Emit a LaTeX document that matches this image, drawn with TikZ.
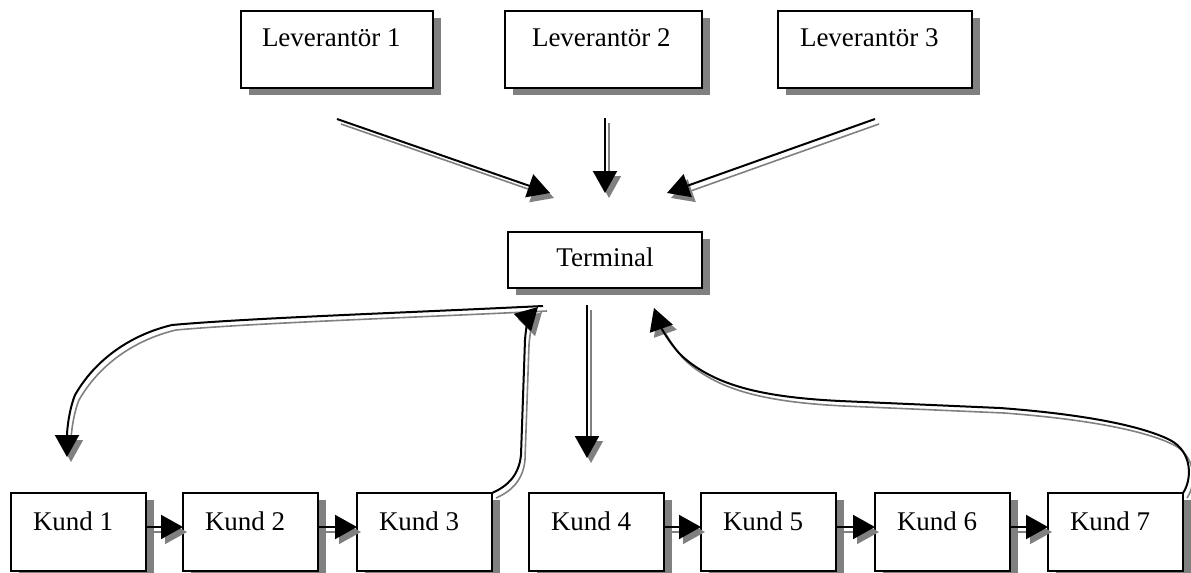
\documentclass[tikz,border=0pt]{standalone}
\usepackage{fontspec}
\setmainfont{Liberation Serif}
\usetikzlibrary{arrows.meta,shadows}
\newcommand\shconn[1]{\draw[shd] #1; \draw[arr] #1;}
\begin{document}
\begin{tikzpicture}[x=0.5pt,y=-0.5pt,
  box/.style={draw, fill=white, line width=0.7pt, anchor=north west, align=flush left,
    outer sep=0pt, font=\fontsize{13.5pt}{15pt}\selectfont, text height=8.9pt,
    drop shadow={shadow xshift=4pt, shadow yshift=-3.5pt, fill=gray, opacity=1}},
  lev/.style={box, minimum height=38.5pt, text depth=11.5pt},
  kund/.style={box, minimum height=39pt, text depth=10pt, text width=45.5pt, inner xsep=11pt},
  arr/.style={draw=black, line width=1pt, -{Triangle[length=11pt,width=12pt]}},
  shd/.style={draw=gray, line width=0.8pt, -{Triangle[length=11pt,width=12pt]},
    transform canvas={xshift=2pt, yshift=-2.5pt}}]
\useasboundingbox (0,0) rectangle (1191,573);

% suppliers
\node[lev, text width=75pt, inner xsep=10.5pt] (L1) at (241,11) {Leverantör 1};
\node[lev, text width=71.5pt, inner xsep=13.5pt] (L2) at (505,11) {Leverantör 2};
\node[lev, text width=75pt, inner xsep=11pt] (L3) at (778,11) {Leverantör 3};

% terminal
\node[box, align=flush center, text width=77pt, inner xsep=10pt, minimum height=28pt, text depth=2pt] (T) at (508,232) {Terminal};

% customers
\node[kund] (K1) at (11,493) {Kund 1};
\node[kund] (K2) at (183,493) {Kund 2};
\node[kund] (K3) at (357,493) {Kund 3};
\node[kund] (K4) at (529,493) {Kund 4};
\node[kund] (K5) at (701,493) {Kund 5};
\node[kund] (K6) at (875,493) {Kund 6};
\node[kund] (K7) at (1048,493) {Kund 7};

% free connector ends
\coordinate (a1s) at (337,119); \coordinate (a1e) at (550,193);
\coordinate (a2s) at (605,118); \coordinate (a2e) at (605,193);
\coordinate (a3s) at (875,119); \coordinate (a3e) at (667,193);
\coordinate (tds) at (587,305); \coordinate (tde) at (587,458);
\coordinate (c1s) at (543,306); \coordinate (c1e) at (67,457);
\coordinate (c2e) at (538,307);
\coordinate (c3e) at (654,308);

% supplier arrows
\shconn{(a1s) -- (a1e)}
\shconn{(a2s) -- (a2e)}
\shconn{(a3s) -- (a3e)}

% terminal down
\shconn{(tds) -- (tde)}

% terminal to Kund 1
\shconn{(c1s) .. controls (400,313) and (250,318) .. (172,325) .. controls (130,335) and (95,360) .. (75,395) .. controls (69,410) and (67,430) .. (c1e)}

% Kund 3 back to terminal
\shconn{(K3.north east) .. controls (508,486) and (519,475) .. (521,455) -- (525,340) .. controls (526,325) and (530,315) .. (c2e)}

% Kund 7 back to terminal
\shconn{(K7.north east) .. controls (1192,480) and (1193,452) .. (1170,440) .. controls (1140,425) and (1080,414) .. (1000,408) -- (840,401) .. controls (760,397) and (715,385) .. (683,357) .. controls (670,345) and (660,325) .. (c3e)}

% chains between customers
\shconn{([yshift=2.5pt]K1.east) -- ([yshift=2.5pt]K2.west)}
\shconn{([yshift=2.5pt]K2.east) -- ([yshift=2.5pt]K3.west)}
\shconn{([yshift=2.5pt]K4.east) -- ([yshift=2.5pt]K5.west)}
\shconn{([yshift=2.5pt]K5.east) -- ([yshift=2.5pt]K6.west)}
\shconn{([yshift=2.5pt]K6.east) -- ([yshift=2.5pt]K7.west)}
\end{tikzpicture}
\end{document}
